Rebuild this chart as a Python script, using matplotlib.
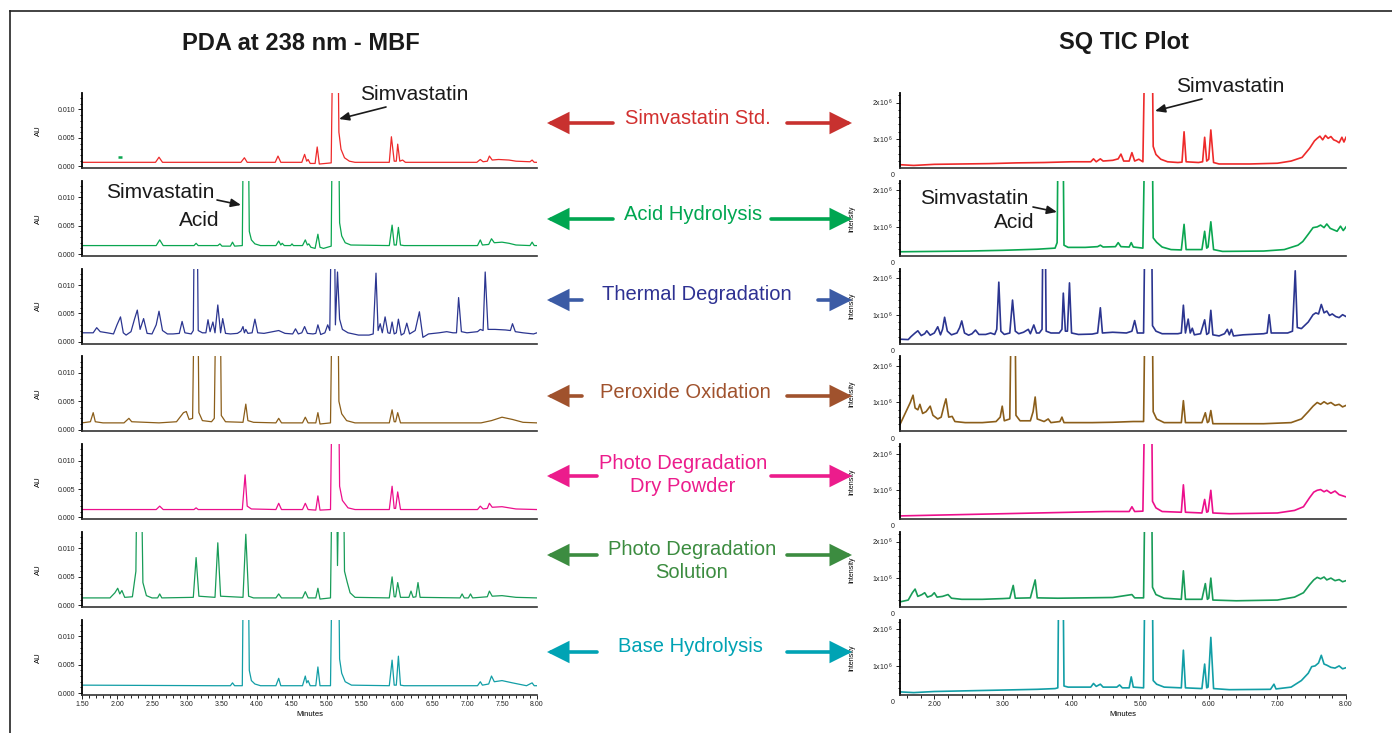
import numpy as np
import matplotlib.pyplot as plt
from matplotlib import font_manager
from matplotlib.ticker import MultipleLocator, FixedLocator, FuncFormatter
from matplotlib.patches import FancyArrowPatch
from matplotlib.lines import Line2D
from matplotlib.transforms import blended_transform_factory

# ---- sample names (middle column) ----
samples = ["Simvastatin Std.", "Acid Hydrolysis", "Thermal Degradation", "Peroxide Oxidation",
           "Photo Degradation\nDry Powder", "Photo Degradation\nSolution", "Base Hydrolysis"]

# ---- PDA traces at 238 nm: (minutes, AU) ----
pda_std = [(1.50, .0007), (2.55, .0007), (2.60, .0016), (2.65, .0007), (3.77, .0007), (3.82, .0015),
           (3.86, .0007), (4.26, .0007), (4.30, .0018), (4.34, .0007), (4.64, .0007), (4.68, .0021),
           (4.71, .0009), (4.73, .0012), (4.76, .0005), (4.83, .0005), (4.86, .0034), (4.89, .0004),
           (5.06, .0006), (5.09, .03), (5.15, .03), (5.17, .0060), (5.20, .0030), (5.25, .0015),
           (5.32, .0009), (5.40, .0007), (5.89, .0007), (5.92, .0052), (5.96, .0009), (5.99, .0009),
           (6.01, .0039), (6.04, .0009), (6.08, .0011), (6.12, .0007), (7.14, .0007), (7.19, .0012),
           (7.23, .0008), (7.29, .0009), (7.32, .0018), (7.36, .0011), (7.45, .0012), (7.60, .0011),
           (7.70, .0009), (7.90, .0008), (7.93, .0011), (7.96, .0007), (8.00, .0007)]
pda_std_mark = [(2.02, .0017), (2.07, .0017)]

pda_acid = [(1.50, .0015), (2.56, .0015), (2.61, .0025), (2.66, .0015), (3.10, .0015), (3.13, .0019),
            (3.16, .0015), (3.44, .0015), (3.47, .0018), (3.50, .0014), (3.62, .0014), (3.65, .0021),
            (3.68, .0014), (3.79, .0015), (3.81, .03), (3.87, .03), (3.89, .0040), (3.92, .0025),
            (3.97, .0018), (4.05, .0015), (4.27, .0015), (4.31, .0023), (4.34, .0016), (4.36, .0019),
            (4.39, .0015), (4.48, .0015), (4.50, .0018), (4.52, .0015), (4.65, .0015), (4.69, .0025),
            (4.72, .0016), (4.74, .0018), (4.77, .0012), (4.83, .0010), (4.87, .0035), (4.90, .0012),
            (4.95, .0010), (5.06, .0014), (5.08, .03), (5.16, .03), (5.18, .0055), (5.21, .0032),
            (5.26, .0020), (5.34, .0016), (5.89, .0015), (5.93, .0051), (5.96, .0016), (5.99, .0016),
            (6.02, .0047), (6.05, .0016), (6.10, .0015), (7.15, .0015), (7.19, .0025), (7.22, .0016),
            (7.31, .0017), (7.35, .0027), (7.39, .0020), (7.50, .0021), (7.60, .0019), (7.70, .0016),
            (7.90, .0015), (7.93, .0021), (7.96, .0015), (8.00, .0015)]

pda_thermal = [(1.50, .0016), (1.66, .0016), (1.71, .0025), (1.76, .0018), (1.86, .0016), (1.95, .0014),
               (2.00, .0030), (2.05, .0044), (2.09, .0016), (2.13, .0012), (2.20, .0018), (2.25, .0040),
               (2.29, .0056), (2.33, .0022), (2.38, .0041), (2.43, .0015), (2.50, .0014), (2.56, .0030),
               (2.60, .0054), (2.65, .0020), (2.72, .0014), (2.80, .0014), (2.89, .0015), (2.93, .0036),
               (2.97, .0016), (3.06, .0014), (3.09, .0020), (3.11, .03), (3.14, .03), (3.16, .0020),
               (3.22, .0016), (3.27, .0016), (3.30, .0039), (3.33, .0018), (3.37, .0035), (3.40, .0016),
               (3.44, .0065), (3.48, .0016), (3.51, .0041), (3.55, .0015), (3.62, .0014), (3.72, .0015),
               (3.77, .0019), (3.80, .0027), (3.82, .0016), (3.84, .0022), (3.87, .0015), (3.93, .0016),
               (3.97, .0040), (4.01, .0016), (4.10, .0015), (4.31, .0020), (4.40, .0015), (4.51, .0014),
               (4.55, .0023), (4.59, .0014), (4.64, .0016), (4.68, .0027), (4.72, .0015), (4.80, .0014),
               (4.84, .0015), (4.87, .0030), (4.91, .0013), (4.97, .0016), (5.01, .0030), (5.04, .0020),
               (5.07, .03), (5.10, .03), (5.12, .0030), (5.15, .0123), (5.18, .0040), (5.22, .0022),
               (5.30, .0016), (5.45, .0012), (5.60, .0012), (5.66, .0014), (5.70, .0121), (5.73, .0020),
               (5.76, .0032), (5.79, .0016), (5.83, .0044), (5.87, .0016), (5.90, .0015), (5.93, .0035),
               (5.96, .0014), (5.99, .0016), (6.02, .0040), (6.06, .0012), (6.10, .0015), (6.14, .0033),
               (6.18, .0014), (6.26, .0020), (6.32, .0053), (6.37, .0008), (6.45, .0014), (6.60, .0016),
               (6.71, .0018), (6.80, .0016), (6.85, .0016), (6.88, .0078), (6.92, .0018), (7.00, .0016),
               (7.15, .0018), (7.19, .0022), (7.23, .0020), (7.26, .0123), (7.30, .0022), (7.40, .0022),
               (7.55, .0021), (7.62, .0020), (7.65, .0032), (7.69, .0018), (7.80, .0016), (7.95, .0014),
               (8.00, .0016)]

pda_peroxide = [(1.50, .0012), (1.62, .0014), (1.66, .0030), (1.69, .0014), (1.80, .0012), (2.10, .0012),
                (2.17, .0020), (2.21, .0014), (2.60, .0012), (2.85, .0014), (2.90, .0022), (2.95, .0030),
                (2.99, .0032), (3.03, .0018), (3.08, .0020), (3.11, .03), (3.15, .03), (3.17, .0030),
                (3.22, .0016), (3.35, .0014), (3.39, .0020), (3.42, .03), (3.47, .03), (3.49, .0025),
                (3.55, .0014), (3.80, .0013), (3.84, .0045), (3.87, .0016), (3.95, .0013), (4.27, .0012),
                (4.31, .0020), (4.35, .0012), (4.65, .0012), (4.69, .0022), (4.73, .0012), (4.84, .0012),
                (4.87, .0030), (4.90, .0010), (5.05, .0012), (5.08, .03), (5.15, .03), (5.17, .0050),
                (5.21, .0028), (5.28, .0016), (5.40, .0012), (5.89, .0012), (5.93, .0035), (5.96, .0014),
                (5.98, .0014), (6.01, .0030), (6.05, .0012), (7.20, .0012), (7.35, .0016), (7.50, .0022),
                (7.65, .0018), (7.80, .0013), (8.00, .0012)]

pda_photo_dry = [(1.50, .0014), (2.56, .0014), (2.61, .0020), (2.66, .0014), (3.10, .0014), (3.13, .0017),
                 (3.16, .0014), (3.79, .0014), (3.83, .0075), (3.86, .0020), (3.92, .0015), (4.27, .0014),
                 (4.31, .0025), (4.35, .0014), (4.65, .0014), (4.69, .0025), (4.73, .0014), (4.84, .0013),
                 (4.87, .0038), (4.90, .0013), (5.05, .0014), (5.08, .03), (5.16, .03), (5.18, .0055),
                 (5.22, .0030), (5.30, .0017), (5.40, .0014), (5.89, .0014), (5.93, .0055), (5.96, .0016),
                 (5.98, .0016), (6.01, .0045), (6.05, .0014), (7.15, .0014), (7.19, .0020), (7.23, .0015),
                 (7.29, .0016), (7.32, .0025), (7.36, .0018), (7.50, .0019), (7.70, .0015), (8.00, .0014)]

pda_photo_sol = [(1.50, .0013), (1.90, .0013), (1.97, .0022), (2.01, .0030), (2.04, .0020), (2.07, .0026),
                 (2.11, .0014), (2.22, .0015), (2.27, .0060), (2.29, .03), (2.34, .03), (2.37, .0040),
                 (2.42, .0017), (2.50, .0013), (2.58, .0013), (2.61, .0020), (2.64, .0013), (3.09, .0014),
                 (3.13, .0084), (3.17, .0016), (3.40, .0014), (3.44, .0110), (3.48, .0016), (3.80, .0014),
                 (3.84, .0125), (3.88, .0016), (3.95, .0013), (4.27, .0013), (4.31, .0020), (4.35, .0013),
                 (4.65, .0013), (4.69, .0024), (4.73, .0013), (4.84, .0013), (4.87, .0030), (4.90, .0011),
                 (5.05, .0013), (5.08, .03), (5.13, .03), (5.15, .0070), (5.18, .03), (5.21, .03),
                 (5.23, .03), (5.25, .0060), (5.29, .0040), (5.33, .0022), (5.40, .0014), (5.89, .0013),
                 (5.93, .0050), (5.96, .0015), (5.98, .0015), (6.01, .0040), (6.05, .0014), (6.17, .0014),
                 (6.20, .0025), (6.23, .0014), (6.27, .0015), (6.30, .0040), (6.33, .0014), (6.90, .0013),
                 (6.93, .0020), (6.96, .0013), (7.02, .0013), (7.05, .0020), (7.08, .0013), (7.29, .0015),
                 (7.32, .0025), (7.36, .0016), (7.50, .0017), (7.70, .0014), (8.00, .0013)]

pda_base = [(1.50, .0014), (3.40, .0013), (3.62, .0013), (3.65, .0018), (3.68, .0013), (3.79, .0013),
            (3.81, .03), (3.87, .03), (3.89, .0040), (3.92, .0022), (3.97, .0016), (4.05, .0013),
            (4.27, .0013), (4.31, .0026), (4.34, .0013), (4.65, .0013), (4.69, .0030), (4.71, .0018),
            (4.73, .0022), (4.76, .0013), (4.84, .0013), (4.87, .0046), (4.90, .0013), (5.05, .0013),
            (5.08, .03), (5.16, .03), (5.18, .0060), (5.21, .0035), (5.26, .0020), (5.35, .0014),
            (5.89, .0013), (5.93, .0058), (5.96, .0014), (5.99, .0014), (6.02, .0065), (6.05, .0014),
            (6.10, .0013), (7.15, .0013), (7.19, .0020), (7.22, .0014), (7.31, .0016), (7.35, .0030),
            (7.39, .0020), (7.50, .0022), (7.65, .0018), (7.85, .0013), (7.93, .0018), (7.96, .0013),
            (8.00, .0013)]

# ---- SQ TIC traces: (minutes, intensity in millions) ----
tic_std = [(1.50, .30), (1.70, .28), (2.00, .31), (2.40, .32), (2.80, .33), (3.20, .35), (3.60, .36),
           (4.00, .38), (4.28, .38), (4.32, .46), (4.36, .38), (4.42, .46), (4.46, .40), (4.60, .42),
           (4.68, .46), (4.72, .59), (4.76, .40), (4.84, .40), (4.88, .63), (4.92, .40), (4.98, .45),
           (5.04, .38), (5.08, 5), (5.17, 5), (5.19, .80), (5.23, .58), (5.30, .45), (5.40, .38),
           (5.55, .36), (5.61, .37), (5.64, 1.20), (5.67, .38), (5.85, .36), (5.91, .38), (5.94, 1.05),
           (5.97, .40), (6.00, .45), (6.03, 1.25), (6.07, .36), (6.15, .32), (6.60, .32), (7.00, .34),
           (7.20, .40), (7.36, .50), (7.47, .75), (7.54, .95), (7.58, 1.02), (7.62, 1.08), (7.66, .98),
           (7.70, 1.10), (7.74, 1.02), (7.78, 1.07), (7.82, .98), (7.86, .95), (7.90, .90), (7.94, 1.05),
           (7.97, .92), (8.00, 1.05)]

tic_acid = [(1.50, .32), (2.00, .33), (2.50, .34), (3.00, .36), (3.50, .39), (3.76, .42), (3.79, .57),
            (3.81, 5), (3.87, 5), (3.89, .50), (3.95, .44), (4.20, .44), (4.38, .46), (4.42, .50),
            (4.46, .45), (4.64, .46), (4.68, .57), (4.72, .46), (4.84, .45), (4.87, .57), (4.90, .45),
            (5.04, .42), (5.08, 5), (5.17, 5), (5.19, .70), (5.24, .58), (5.32, .45), (5.45, .38),
            (5.60, .37), (5.64, 1.07), (5.67, .38), (5.90, .38), (5.94, .88), (5.97, .42), (5.99, .45),
            (6.03, 1.14), (6.07, .38), (6.20, .33), (6.80, .34), (7.10, .38), (7.30, .50), (7.37, .60),
            (7.45, .80), (7.52, .98), (7.58, 1.00), (7.63, 1.05), (7.68, .98), (7.72, 1.08), (7.77, .96),
            (7.82, .92), (7.87, .88), (7.92, 1.02), (7.96, .90), (8.00, 1.00)]

tic_thermal = [(1.50, .33), (1.62, .32), (1.66, .40), (1.72, .50), (1.76, .56), (1.81, .43), (1.86, .48),
               (1.89, .56), (1.94, .44), (2.00, .50), (2.05, .67), (2.09, .45), (2.12, .60), (2.15, .93),
               (2.19, .55), (2.25, .45), (2.33, .50), (2.37, .65), (2.40, .83), (2.44, .50), (2.50, .44),
               (2.55, .48), (2.60, .58), (2.65, .46), (2.75, .46), (2.82, .50), (2.88, .46), (2.91, .60),
               (2.94, 1.89), (2.97, .55), (3.02, .46), (3.10, .50), (3.14, 1.40), (3.18, .55), (3.23, .48),
               (3.30, .52), (3.37, .60), (3.40, .48), (3.45, .72), (3.49, .50), (3.53, .50), (3.57, .60),
               (3.59, 5), (3.61, 5), (3.63, .55), (3.70, .50), (3.82, .50), (3.86, .60), (3.88, 1.59),
               (3.91, .55), (3.94, .55), (3.97, 1.87), (4.00, .50), (4.10, .46), (4.30, .47), (4.38, .50),
               (4.42, 1.19), (4.45, .50), (4.60, .52), (4.80, .50), (4.88, .55), (4.92, .84), (4.96, .50),
               (5.05, .50), (5.08, 5), (5.16, 5), (5.18, .70), (5.23, .55), (5.32, .48), (5.55, .48),
               (5.60, .50), (5.63, 1.26), (5.66, .50), (5.70, .88), (5.73, .50), (5.76, .63), (5.79, .45),
               (5.88, .48), (5.94, .86), (5.97, .46), (6.00, .50), (6.03, 1.12), (6.06, .45), (6.15, .42),
               (6.23, .48), (6.27, .60), (6.30, .45), (6.33, .60), (6.36, .42), (6.50, .45), (6.80, .48),
               (6.85, .50), (6.88, 1.00), (6.91, .50), (7.15, .50), (7.22, .55), (7.26, 2.20), (7.29, .65),
               (7.35, .62), (7.45, .80), (7.52, 1.00), (7.56, 1.05), (7.60, 1.02), (7.64, 1.28), (7.68, 1.05),
               (7.72, 1.10), (7.76, .98), (7.80, 1.02), (7.85, .95), (7.90, .92), (7.95, 1.00), (8.00, .95)]

tic_peroxide = [(1.50, .40), (1.55, .60), (1.60, .80), (1.65, 1.00), (1.69, 1.20), (1.72, .85), (1.76, .80),
                (1.79, .95), (1.83, .70), (1.88, .75), (1.94, .90), (1.98, .65), (2.05, .55), (2.10, .60),
                (2.14, .90), (2.17, 1.10), (2.21, .60), (2.26, .62), (2.30, .48), (2.45, .45), (2.70, .45),
                (2.90, .48), (2.96, .60), (2.99, .90), (3.02, .50), (3.10, .55), (3.13, 5), (3.17, 5),
                (3.19, .65), (3.25, .50), (3.40, .50), (3.44, .75), (3.47, 1.15), (3.50, .55), (3.60, .48),
                (3.66, .55), (3.70, .45), (3.83, .48), (3.86, .60), (3.89, .45), (4.30, .45), (4.60, .46),
                (4.90, .48), (5.05, .48), (5.08, 5), (5.17, 5), (5.19, .75), (5.24, .55), (5.35, .45),
                (5.60, .45), (5.63, 1.05), (5.66, .45), (5.90, .45), (5.95, .72), (5.98, .45), (6.00, .48),
                (6.03, .78), (6.06, .42), (6.30, .42), (6.80, .42), (7.20, .45), (7.35, .55), (7.45, .75),
                (7.52, .90), (7.58, 1.00), (7.63, .95), (7.68, 1.02), (7.73, .96), (7.78, 1.00), (7.84, .92),
                (7.90, .95), (7.95, .88), (8.00, .92)]

tic_photo_dry = [(1.50, .30), (2.00, .32), (2.50, .34), (3.00, .36), (3.50, .38), (4.00, .40), (4.50, .42),
                 (4.84, .42), (4.88, .55), (4.92, .42), (5.04, .43), (5.08, 5), (5.16, 5), (5.18, .70),
                 (5.23, .52), (5.32, .42), (5.60, .40), (5.63, 1.15), (5.66, .40), (5.90, .38), (5.94, .75),
                 (5.97, .40), (5.99, .42), (6.03, 1.00), (6.06, .38), (6.30, .36), (7.00, .38), (7.25, .45),
                 (7.38, .55), (7.47, .80), (7.53, .95), (7.58, 1.00), (7.63, 1.02), (7.68, .96), (7.72, 1.00),
                 (7.78, .92), (7.84, .98), (7.90, .88), (7.95, .85), (8.00, .82)]

tic_photo_sol = [(1.50, .35), (1.62, .40), (1.68, .60), (1.72, .70), (1.76, .50), (1.82, .55), (1.86, .60),
                 (1.90, .48), (1.96, .52), (2.00, .60), (2.04, .48), (2.12, .50), (2.20, .55), (2.25, .45),
                 (2.40, .42), (2.70, .42), (3.00, .44), (3.10, .45), (3.15, .80), (3.18, .45), (3.40, .46),
                 (3.47, .95), (3.50, .46), (3.80, .45), (4.20, .46), (4.60, .47), (4.88, .55), (4.92, .46),
                 (5.05, .46), (5.08, 5), (5.16, 5), (5.18, .75), (5.23, .55), (5.35, .45), (5.60, .42),
                 (5.63, 1.20), (5.66, .42), (5.90, .42), (5.95, .85), (5.98, .42), (6.00, .45), (6.03, 1.00),
                 (6.06, .40), (6.40, .38), (7.00, .40), (7.25, .48), (7.38, .60), (7.47, .82), (7.53, .95),
                 (7.58, 1.02), (7.63, .98), (7.68, 1.03), (7.72, .95), (7.78, 1.00), (7.84, .93), (7.90, .96),
                 (7.95, .90), (8.00, .93)]

tic_base = [(1.50, .29), (1.70, .27), (2.00, .30), (2.50, .32), (3.00, .34), (3.50, .36), (3.76, .38),
            (3.80, .40), (3.82, 5), (3.87, 5), (3.89, .45), (3.95, .42), (4.28, .42), (4.32, .52),
            (4.36, .44), (4.42, .50), (4.46, .42), (4.66, .42), (4.70, .48), (4.74, .40), (4.84, .40),
            (4.87, .70), (4.90, .42), (5.05, .40), (5.08, 5), (5.17, 5), (5.19, .60), (5.24, .50),
            (5.35, .42), (5.60, .40), (5.63, 1.43), (5.66, .40), (5.90, .38), (5.94, 1.05), (5.97, .40),
            (5.99, .42), (6.03, 1.78), (6.07, .38), (6.30, .35), (6.90, .36), (6.95, .50), (6.98, .37),
            (7.20, .42), (7.35, .60), (7.45, .80), (7.50, .98), (7.55, 1.00), (7.60, 1.08), (7.64, 1.29),
            (7.68, 1.05), (7.72, 1.02), (7.78, .96), (7.84, .94), (7.90, 1.00), (7.95, .92), (8.00, .95)]

pda_traces = [pda_std, pda_acid, pda_thermal, pda_peroxide, pda_photo_dry, pda_photo_sol, pda_base]
tic_traces = [tic_std, tic_acid, tic_thermal, tic_peroxide, tic_photo_dry, tic_photo_sol, tic_base]

trace_colors = ["#ee2a2a", "#0aa650", "#2b3590", "#8b5e1a", "#ec0f8c", "#189c58", "#129ea6"]
label_colors = ["#d2302f", "#00a651", "#2e3192", "#a0522d", "#ec1c8c", "#3c8c40", "#00a3b4"]
arrow_colors = ["#c8312f", "#00a651", "#3b5ba5", "#a0522d", "#ec1c8c", "#3c8c40", "#00a3b4"]

# ---- fonts ----
installed = {f.name for f in font_manager.fontManager.ttflist}
plt.rcParams["font.family"] = ["Liberation Sans", "DejaVu Sans"]
plt.rcParams["mathtext.default"] = "regular"
if "Liberation Sans Narrow" in installed:
    title_font, title_size = "Liberation Sans Narrow", 21
else:
    title_font, title_size = "Liberation Sans", 17

W, H = 1392, 733
fig = plt.figure(figsize=(W / 100, H / 100), dpi=100)


def px_rect(x0, x1, y_top, y_bot):
    return [x0 / W, 1 - y_bot / H, (x1 - x0) / W, (y_bot - y_top) / H]


row_bottom = [168 + 87.8 * i for i in range(7)]
row_height = 75


def style_axes(ax, last):
    for side in ["top", "right"]:
        ax.spines[side].set_visible(False)
    ax.spines["left"].set_linewidth(1.3)
    ax.spines["bottom"].set_linewidth(1.2)
    ax.spines["bottom"].set_color("#333333")
    ax.tick_params(which="both", labelsize=5, width=0.7, colors="#222222", pad=1.5)
    ax.tick_params(which="major", length=3)
    ax.tick_params(which="minor", length=1.8)
    if not last:
        ax.tick_params(axis="x", which="both", bottom=False, labelbottom=False)


for i in range(7):
    last = i == 6
    yb = row_bottom[i]

    # PDA panel
    ax = fig.add_axes(px_rect(82, 537, yb - row_height, yb))
    t, v = np.array(pda_traces[i]).T
    ax.plot(t, v, color=trace_colors[i], lw=0.9)
    if i == 0:
        mt, mv = np.array(pda_std_mark).T
        ax.plot(mt, mv, color="#0aa650", lw=1.8, solid_capstyle="butt")
    ax.set_xlim(1.5, 8.0)
    ax.set_ylim(-0.0003, 0.0129)
    ax.yaxis.set_major_locator(FixedLocator([0, 0.005, 0.010]))
    ax.yaxis.set_minor_locator(MultipleLocator(0.001))
    ax.yaxis.set_major_formatter(FuncFormatter(lambda v, _: f"{v:.3f}"))
    ax.xaxis.set_major_locator(MultipleLocator(0.5))
    ax.xaxis.set_minor_locator(MultipleLocator(0.1))
    ax.xaxis.set_major_formatter(FuncFormatter(lambda v, _: f"{v:.2f}"))
    ax.set_ylabel("AU", fontsize=5.5)
    ax.yaxis.set_label_coords(-40 / 455, 0.5)
    style_axes(ax, last)
    if last:
        ax.set_xlabel("Minutes", fontsize=5.5, labelpad=2)

    # TIC panel
    ax = fig.add_axes(px_rect(900, 1346, yb - row_height, yb))
    t, v = np.array(tic_traces[i]).T
    ax.plot(t, v * 1e6, color=trace_colors[i], lw=1.2)
    ax.set_xlim(1.5, 8.0)
    ax.set_ylim(0.21e6, 2.26e6)
    ax.yaxis.set_major_locator(FixedLocator([1e6, 2e6]))
    ax.yaxis.set_minor_locator(MultipleLocator(2e5))
    ax.yaxis.set_major_formatter(FuncFormatter(lambda v, _: f"{v / 1e6:.0f}x10$^{{\\ 6}}$"))
    ax.xaxis.set_major_locator(MultipleLocator(1.0))
    ax.xaxis.set_minor_locator(MultipleLocator(0.2))
    ax.xaxis.set_major_formatter(FuncFormatter(lambda v, _: f"{v:.2f}"))
    if i > 0:
        ax.set_ylabel("Intensity", fontsize=5)
        ax.yaxis.set_label_coords(-45 / 446, 0.5)
    style_axes(ax, last)
    ax.text(-0.012, 0, "0", transform=blended_transform_factory(ax.transAxes, ax.transData),
            ha="right", va="center", fontsize=5, color="#222222", clip_on=False)
    if last:
        ax.set_xlabel("Minutes", fontsize=5.5, labelpad=2)

# ---- overlay in pixel coordinates for titles, labels, arrows ----
ov = fig.add_axes([0, 0, 1, 1])
ov.set_xlim(0, W)
ov.set_ylim(H, 0)
ov.axis("off")
ov.patch.set_alpha(0)

ov.add_line(Line2D([10, 10], [11, H], color="#222222", lw=1.2))
ov.add_line(Line2D([10, W], [11, 11], color="#222222", lw=1.2))

ov.text(301, 43, "PDA at 238 nm - MBF", ha="center", va="center", fontsize=title_size,
        fontweight="bold", family=[title_font, "DejaVu Sans"], color="#1a1a1a")
ov.text(1124, 43, "SQ TIC Plot", ha="center", va="center", fontsize=title_size,
        fontweight="bold", family=[title_font, "DejaVu Sans"], color="#1a1a1a")

# label placement: text centre x, text centre y, arrow y, left-arrow tail, right-arrow tail
mid_layout = [(698, 119, 123, 613, 787), (693, 215, 219, 613, 771), (697, 295, 300, 582, 818),
              (685, 392, 396, 582, 787), (683, 475, 476, 597, 771), (692, 561, 555, 597, 787),
              (690, 646, 652, 597, 787)]

for name, (cx, cy, ay, lt, rt), tc, ac in zip(samples, mid_layout, label_colors, arrow_colors):
    ov.text(cx, cy, name, ha="center", va="center", fontsize=14.5, color=tc, linespacing=1.25)
    for tail, tip in [(lt, 547), (rt, 852)]:
        ov.add_patch(FancyArrowPatch((tail, ay), (tip, ay), arrowstyle="-|>,head_length=12,head_width=6",
                                     mutation_scale=1, lw=2.6, color=ac, shrinkA=0, shrinkB=0,
                                     joinstyle="miter"))

# peak annotations
ann_kw = dict(fontsize=15, color="#1a1a1a", ha="center", va="center")
arrow_kw = dict(arrowstyle="-|>,head_length=6,head_width=2.5", mutation_scale=1, lw=1.2,
                color="#1a1a1a", shrinkA=0, shrinkB=0)
ov.text(414, 95, "Simvastatin", **ann_kw)
ov.add_patch(FancyArrowPatch((386, 107), (339, 119), **arrow_kw))
ov.text(1230, 87, "Simvastatin", **ann_kw)
ov.add_patch(FancyArrowPatch((1202, 99), (1155, 111), **arrow_kw))
ov.text(160, 192, "Simvastatin", **ann_kw)
ov.text(199, 221, "Acid", **ann_kw)
ov.add_patch(FancyArrowPatch((217, 200), (241, 205), **arrow_kw))
ov.text(974, 198, "Simvastatin", **ann_kw)
ov.text(1014, 223, "Acid", **ann_kw)
ov.add_patch(FancyArrowPatch((1033, 207), (1057, 212), **arrow_kw))

fig.savefig("out.png", dpi=100)
